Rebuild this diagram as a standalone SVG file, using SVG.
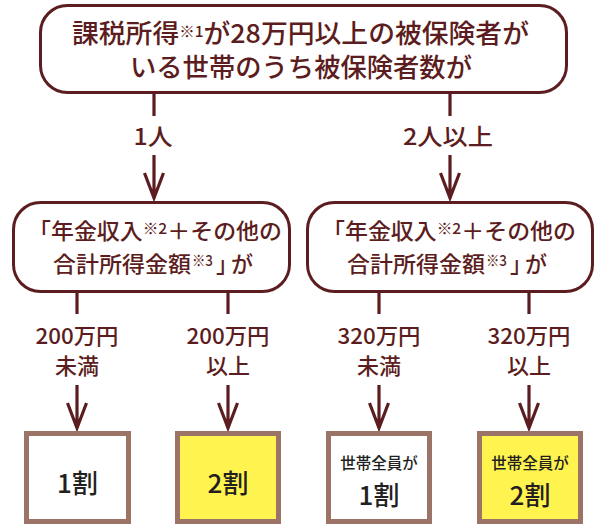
<svg xmlns="http://www.w3.org/2000/svg" width="599" height="526" viewBox="0 0 599 526">
<style>
.bx{fill:#fff;stroke:#5c1d20;stroke-width:3}
.res{stroke:#9b7367;stroke-width:5}
.ln{fill:none;stroke:#5c1d20;stroke-width:3.2}
.t{font-family:"Noto Sans CJK JP","Noto Sans",sans-serif;font-weight:500;fill:#5c1d20;text-anchor:middle}
.s{font-family:"Noto Sans CJK JP","Noto Sans",sans-serif;font-weight:500;fill:#5c1d20;text-anchor:start}
.r{font-family:"Noto Sans CJK JP","Noto Sans",sans-serif;font-weight:500;fill:#231f20;text-anchor:middle}
.sm{font-size:15px}
</style>
<rect width="599" height="526" fill="#fff"/>
<g id="connectors">
<path class="ln" d="M154,93V116M154,155V197M144.5,173L154,198L163.5,173"/>
<path class="ln" d="M450,93V116M450,155V197M440.5,173L450,198L459.5,173"/>
<path class="ln" d="M77,292V314M77,385V427M67.5,403L77,428L86.5,403"/>
<path class="ln" d="M228,292V314M228,385V427M218.5,403L228,428L237.5,403"/>
<path class="ln" d="M379,292V314M379,385V427M369.5,403L379,428L388.5,403"/>
<path class="ln" d="M529,292V314M529,385V427M519.5,403L529,428L538.5,403"/>
<text class="t" x="153" y="145" font-size="23" textLength="39" lengthAdjust="spacingAndGlyphs">1人</text>
<text class="t" x="448" y="145" font-size="23" textLength="90" lengthAdjust="spacingAndGlyphs">2人以上</text>
<text class="t" font-size="22"><tspan x="77" y="344" textLength="83" lengthAdjust="spacingAndGlyphs">200万円</tspan><tspan x="77" y="374">未満</tspan></text>
<text class="t" font-size="22"><tspan x="228" y="344" textLength="83" lengthAdjust="spacingAndGlyphs">200万円</tspan><tspan x="228" y="374">以上</tspan></text>
<text class="t" font-size="22"><tspan x="379" y="344" textLength="83" lengthAdjust="spacingAndGlyphs">320万円</tspan><tspan x="379" y="374">未満</tspan></text>
<text class="t" font-size="22"><tspan x="529" y="344" textLength="83" lengthAdjust="spacingAndGlyphs">320万円</tspan><tspan x="529" y="374">以上</tspan></text>
</g>
<g id="top">
<rect class="bx" x="40.5" y="5.5" width="526" height="87" rx="27"/>
<text class="t" x="300.5" y="43" font-size="26" textLength="457" lengthAdjust="spacingAndGlyphs">課税所得<tspan class="sm" dy="-6">※1</tspan><tspan dy="6">が28万円以上の被保険者が</tspan></text>
<text class="t" x="301" y="77" font-size="26" textLength="342" lengthAdjust="spacingAndGlyphs">いる世帯のうち被保険者数が</text>
</g>
<g id="mid-left">
<rect class="bx" x="13.5" y="202.5" width="276" height="89" rx="27"/>
<text class="t" x="155" y="239" font-size="22" textLength="254" lengthAdjust="spacingAndGlyphs">「年金収入<tspan class="sm" dy="-5">※2</tspan><tspan dy="5">＋その他の</tspan></text>
<text class="s" font-size="22"><tspan x="53" y="272" textLength="138" lengthAdjust="spacingAndGlyphs">合計所得金額</tspan><tspan x="192" y="266" font-size="15" textLength="21" lengthAdjust="spacingAndGlyphs">※3</tspan><tspan x="216" y="272" letter-spacing="-7">」が</tspan></text>
</g>
<g id="mid-right">
<rect class="bx" x="307.5" y="202.5" width="285" height="89" rx="27"/>
<text class="t" x="449" y="239" font-size="22" textLength="254" lengthAdjust="spacingAndGlyphs">「年金収入<tspan class="sm" dy="-5">※2</tspan><tspan dy="5">＋その他の</tspan></text>
<text class="s" font-size="22"><tspan x="347" y="272" textLength="138" lengthAdjust="spacingAndGlyphs">合計所得金額</tspan><tspan x="486" y="266" font-size="15" textLength="21" lengthAdjust="spacingAndGlyphs">※3</tspan><tspan x="510" y="272" letter-spacing="-7">」が</tspan></text>
</g>
<g id="r1">
<rect class="res" x="26.5" y="433.5" width="102" height="88" fill="#fff"/>
<text class="r" x="77.5" y="493" font-size="26">1割</text>
</g>
<g id="r2">
<rect class="res" x="177.5" y="433.5" width="101" height="88" fill="#fff34f"/>
<text class="r" x="228" y="493" font-size="26">2割</text>
</g>
<g id="r3">
<rect class="res" x="328.5" y="433.5" width="101" height="88" fill="#fff"/>
<text class="r" font-size="26"><tspan x="379" y="469" font-size="15.5">世帯全員が</tspan><tspan x="379" y="505">1割</tspan></text>
</g>
<g id="r4">
<rect class="res" x="479.5" y="433.5" width="101" height="88" fill="#fff34f"/>
<text class="r" font-size="26"><tspan x="530" y="469" font-size="15.5">世帯全員が</tspan><tspan x="530" y="505">2割</tspan></text>
</g>
</svg>
